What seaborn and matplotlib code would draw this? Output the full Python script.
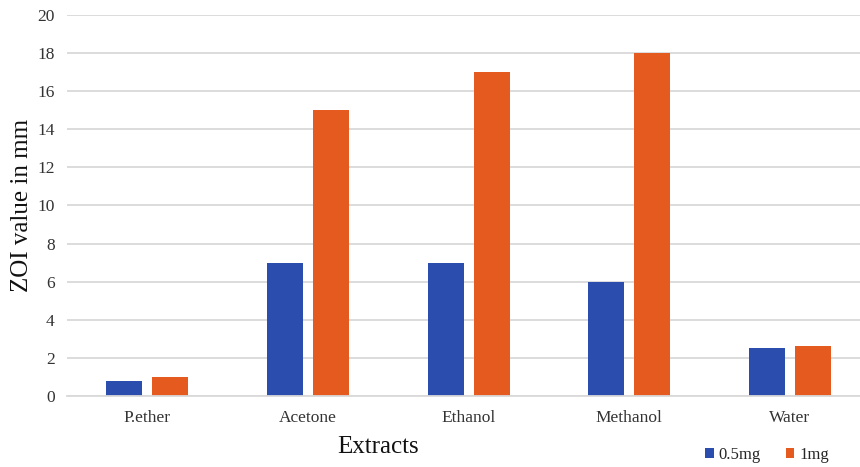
import matplotlib
matplotlib.use("Agg")
import matplotlib.pyplot as plt
import seaborn as sns
import pandas as pd
from matplotlib.patches import Patch

extracts = ["P.ether", "Acetone", "Ethanol", "Methanol", "Water"]
dose_low = [0.8, 7, 7, 6, 2.5]
dose_high = [1.0, 15, 17, 18, 2.6]
series_names = ["0.5mg", "1mg"]
colors = ["#2B4EAE", "#E55A1F"]

df = pd.DataFrame({
    "Extract": extracts * 2,
    "Dose": [series_names[0]] * len(extracts) + [series_names[1]] * len(extracts),
    "ZOI": dose_low + dose_high,
})

sns.set_theme(style="white")
plt.rcParams["font.family"] = ["Liberation Serif", "DejaVu Serif"]

fig = plt.figure(figsize=(8.6, 4.67), dpi=100)
# the plot area runs past the right edge of the canvas
ax = fig.add_axes([0.078, 0.152, 0.934, 0.816])

sns.barplot(data=df, x="Extract", y="ZOI", hue="Dose", palette=colors,
            width=0.572, gap=0.217, ax=ax, legend=False, saturation=1,
            edgecolor="none")

ax.set_ylim(0, 20)
ax.set_yticks(range(0, 21, 2))
ax.set_xlim(-0.5, len(extracts) - 0.5)
ax.yaxis.grid(True, color="#D9D9D9", linewidth=1.3)
ax.set_axisbelow(True)
for side in ["top", "right", "left"]:
    ax.spines[side].set_visible(False)
ax.spines["bottom"].set_color("#D9D9D9")
ax.spines["bottom"].set_linewidth(1.3)
ax.tick_params(axis="both", length=0, labelsize=12.5, colors="#333333")
ax.tick_params(axis="y", pad=9)
ax.tick_params(axis="x", pad=10)

ax.set_xlabel("Extracts", fontsize=18, color="#111111")
ax.xaxis.set_label_coords(0.387, -0.104)
ax.set_ylabel("ZOI value in mm", fontsize=18, color="#111111")
ax.yaxis.set_label_coords(-0.042, 0.5)

handles = [Patch(facecolor=c, edgecolor="none") for c in colors]
fig.legend(handles, series_names, loc="center", bbox_to_anchor=(0.892, 0.026),
           ncol=2, frameon=False, fontsize=12, handlelength=0.5, handleheight=0.5,
           handletextpad=0.3, columnspacing=1.5)

fig.savefig("out.png", dpi=100)
